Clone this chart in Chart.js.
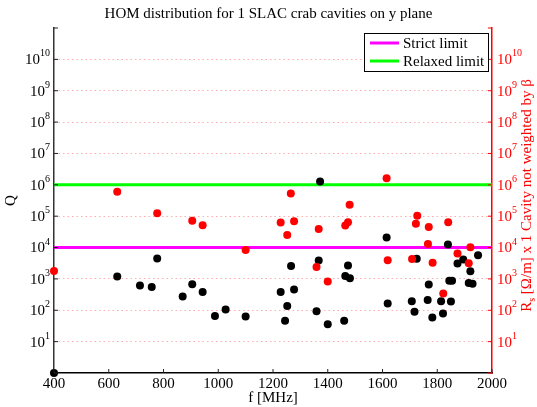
<!DOCTYPE html>
<html>
<head>
<meta charset="utf-8">
<script src="https://cdn.jsdelivr.net/npm/chart.js@4/dist/chart.umd.min.js"></script>
<style>
  html, body { margin: 0; padding: 0; background: #fff; }
  #wrap { width: 537px; height: 407px; }
</style>
</head>
<body>
<div id="wrap"><canvas id="homChart"></canvas></div>
<script>
// values
const qFreq = [400, 631, 714, 757, 777, 870, 905, 943, 988, 1027, 1100, 1228, 1244, 1252, 1266,
  1277, 1359, 1367, 1372, 1400, 1460, 1464, 1474, 1481, 1615, 1619, 1707, 1717, 1725, 1765,
  1769, 1782, 1814, 1821, 1839, 1844, 1850, 1854, 1874, 1895, 1915, 1921, 1929, 1949];
const qValues = [1, 1200, 617, 555, 4470, 275, 675, 383, 66, 105, 63, 385, 46, 137, 2600,
  460, 93, 3870, 1.28e6, 36, 46, 1230, 2690, 1050, 21000, 164, 195, 89, 4400, 214,
  660, 59, 195, 79, 12500, 870, 190, 870, 3100, 4150, 740, 1740, 700, 5700];
const rsFreq = [400, 631, 777, 905, 943, 1100, 1228, 1252, 1265, 1277, 1359, 1367, 1400, 1464,
  1474, 1480, 1615, 1619, 1708, 1722, 1727, 1766, 1769, 1783, 1822, 1840, 1874, 1915, 1921];
const rsValues = [1800, 600000, 123000, 71000, 51000, 8300, 63000, 25000, 530000, 69000, 2400,
  39000, 830, 50000, 64000, 232000, 1.63e6, 3950, 4350, 57000, 104000, 12900, 45000, 3300, 345,
  64000, 6450, 3150, 10200];
const limitFreq = [400, 2000];
const strictLimit = [1e4, 1e4];
const relaxedLimit = [1e6, 1e6];
const xTicks = [400, 600, 800, 1000, 1200, 1400, 1600, 1800, 2000];
const decades = [0, 1, 2, 3, 4, 5, 6, 7, 8, 9, 10, 11];

const SERIF = '"Liberation Serif", "Times New Roman", serif';
const toPts = (xs, ys) => xs.map((x, i) => ({ x, y: ys[i] }));
const decadeTicks = (scale) => { scale.ticks = decades.map((e) => ({ value: 10 ** e })); };

// draws 10^n labels, inward tick marks, legend box and right axis title
const decorPlugin = {
  id: 'decor',
  afterDraw(chart) {
    const { ctx, chartArea: a } = chart;
    const x = chart.scales.x;
    const yl = chart.scales.yL;
    ctx.save();
    // tick marks pointing inward
    ctx.lineWidth = 1;
    ctx.strokeStyle = '#222';
    xTicks.forEach((v) => {
      const px = x.getPixelForValue(v);
      ctx.beginPath(); ctx.moveTo(px, a.bottom); ctx.lineTo(px, a.bottom - 4); ctx.stroke();
    });
    decades.forEach((e) => {
      const py = yl.getPixelForValue(10 ** e);
      ctx.strokeStyle = '#222';
      ctx.beginPath(); ctx.moveTo(a.left, py); ctx.lineTo(a.left + 4, py); ctx.stroke();
      ctx.strokeStyle = '#ff0000';
      ctx.beginPath(); ctx.moveTo(a.right, py); ctx.lineTo(a.right - 4, py); ctx.stroke();
    });
    // decade labels with superscripts
    const pow = (px, py, e, side, color) => {
      ctx.fillStyle = color;
      ctx.font = '15px ' + SERIF;
      const wb = ctx.measureText('10').width;
      ctx.font = '10px ' + SERIF;
      const we = ctx.measureText(String(e)).width;
      const x0 = side === 'left' ? px - wb - we : px;
      ctx.textAlign = 'left';
      ctx.font = '15px ' + SERIF;
      ctx.textBaseline = 'middle';
      ctx.fillText('10', x0, py + 1);
      ctx.font = '10px ' + SERIF;
      ctx.textBaseline = 'alphabetic';
      ctx.fillText(String(e), x0 + wb, py - 3);
    };
    decades.slice(1, 11).forEach((e) => {
      const py = yl.getPixelForValue(10 ** e);
      pow(a.left - 4, py, e, 'left', '#000');
      pow(a.right + 5, py, e, 'right', '#ff0000');
    });
    // right axis title, reading bottom to top
    ctx.translate(527, (a.top + a.bottom) / 2 - 5);
    ctx.rotate(-Math.PI / 2);
    ctx.fillStyle = '#ff0000';
    ctx.textBaseline = 'middle';
    ctx.textAlign = 'left';
    const big = '15px ' + SERIF;
    const small = '10px ' + SERIF;
    const rest = ' [Ω/m] x 1 Cavity not weighted by β';
    ctx.font = big; const wR = ctx.measureText('R').width; const wRest = ctx.measureText(rest).width;
    ctx.font = small; const wS = ctx.measureText('s').width;
    let tx = -(wR + wS + wRest) / 2;
    ctx.font = big; ctx.fillText('R', tx, 0); tx += wR;
    ctx.font = small; ctx.fillText('s', tx, 5); tx += wS;
    ctx.font = big; ctx.fillText(rest, tx, 0);
    ctx.restore();

    // legend
    ctx.save();
    const lx = a.right - 128; const ly = a.top + 5;
    ctx.fillStyle = '#fff';
    ctx.fillRect(lx, ly, 124, 38);
    ctx.strokeStyle = '#000';
    ctx.lineWidth = 1;
    ctx.strokeRect(lx + 0.5, ly + 0.5, 124, 38);
    const items = chart.data.datasets.filter((d) => d.showLine);
    items.forEach((d, i) => {
      const yy = ly + 10 + i * 18;
      ctx.strokeStyle = d.borderColor;
      ctx.lineWidth = 3;
      ctx.beginPath(); ctx.moveTo(lx + 6, yy); ctx.lineTo(lx + 35, yy); ctx.stroke();
      ctx.fillStyle = '#000';
      ctx.font = '15px ' + SERIF;
      ctx.textBaseline = 'middle';
      ctx.fillText(d.label, lx + 39, yy + 1);
    });
    ctx.restore();
  },
};

new Chart(document.getElementById('homChart'), {
  type: 'scatter',
  data: {
    datasets: [
      {
        label: 'Strict limit',
        data: toPts(limitFreq, strictLimit),
        showLine: true,
        borderColor: '#ff00ff',
        borderWidth: 3,
        pointRadius: 0,
        yAxisID: 'yL',
        order: 3,
      },
      {
        label: 'Relaxed limit',
        data: toPts(limitFreq, relaxedLimit),
        showLine: true,
        borderColor: '#00ff00',
        borderWidth: 3,
        pointRadius: 0,
        yAxisID: 'yL',
        order: 3,
      },
      {
        label: 'Q',
        data: toPts(qFreq, qValues),
        backgroundColor: '#000',
        borderWidth: 0,
        pointRadius: 4,
        yAxisID: 'yL',
        clip: false,
        order: 2,
      },
      {
        label: 'Rs',
        data: toPts(rsFreq, rsValues),
        backgroundColor: '#ff0000',
        borderWidth: 0,
        pointRadius: 4,
        yAxisID: 'yR',
        clip: false,
        order: 1,
      },
    ],
  },
  options: {
    responsive: true,
    maintainAspectRatio: false,
    animation: false,
    layout: { padding: 0 },
    plugins: {
      legend: { display: false },
      tooltip: { enabled: false },
      title: {
        display: true,
        text: 'HOM distribution for 1 SLAC crab cavities on y plane',
        color: '#000',
        font: { family: SERIF, size: 15, weight: 'normal' },
        padding: { top: 5, bottom: 5 },
      },
    },
    scales: {
      x: {
        type: 'linear',
        min: 400,
        max: 2000,
        afterBuildTicks: (s) => { s.ticks = xTicks.map((v) => ({ value: v })); },
        afterFit: (s) => { s.height = 34; },
        grid: { display: false, drawTicks: false },
        border: { color: '#000', width: 1.5 },
        ticks: {
          color: '#000', font: { family: SERIF, size: 15 }, padding: 2, maxRotation: 0,
          callback: (v) => String(v),
        },
        title: {
          display: true, text: 'f [MHz]', color: '#000',
          font: { family: SERIF, size: 15 }, padding: 0,
        },
      },
      yL: {
        type: 'logarithmic',
        position: 'left',
        min: 1,
        max: 1e11,
        afterBuildTicks: decadeTicks,
        afterFit: (s) => { s.width = 54; },
        grid: { display: false, drawTicks: false },
        border: { color: '#333', width: 1.5 },
        ticks: { autoSkip: false, callback: () => '' },
        title: {
          display: true, text: 'Q', color: '#000',
          font: { family: SERIF, size: 15 }, padding: 2,
        },
      },
      yR: {
        type: 'logarithmic',
        position: 'right',
        min: 1,
        max: 1e11,
        afterBuildTicks: decadeTicks,
        afterFit: (s) => { s.width = 45; },
        grid: {
          drawTicks: false,
          color: (c) => (c.tick && (c.tick.value <= 1 || c.tick.value >= 1e11)
            ? 'rgba(0,0,0,0)' : 'rgba(255,90,90,0.5)'),
        },
        border: { color: '#ff0000', width: 1.5, dash: [1.5, 3] },
        ticks: { autoSkip: false, callback: () => '' },
      },
    },
  },
  plugins: [decorPlugin],
});
</script>
</body>
</html>
